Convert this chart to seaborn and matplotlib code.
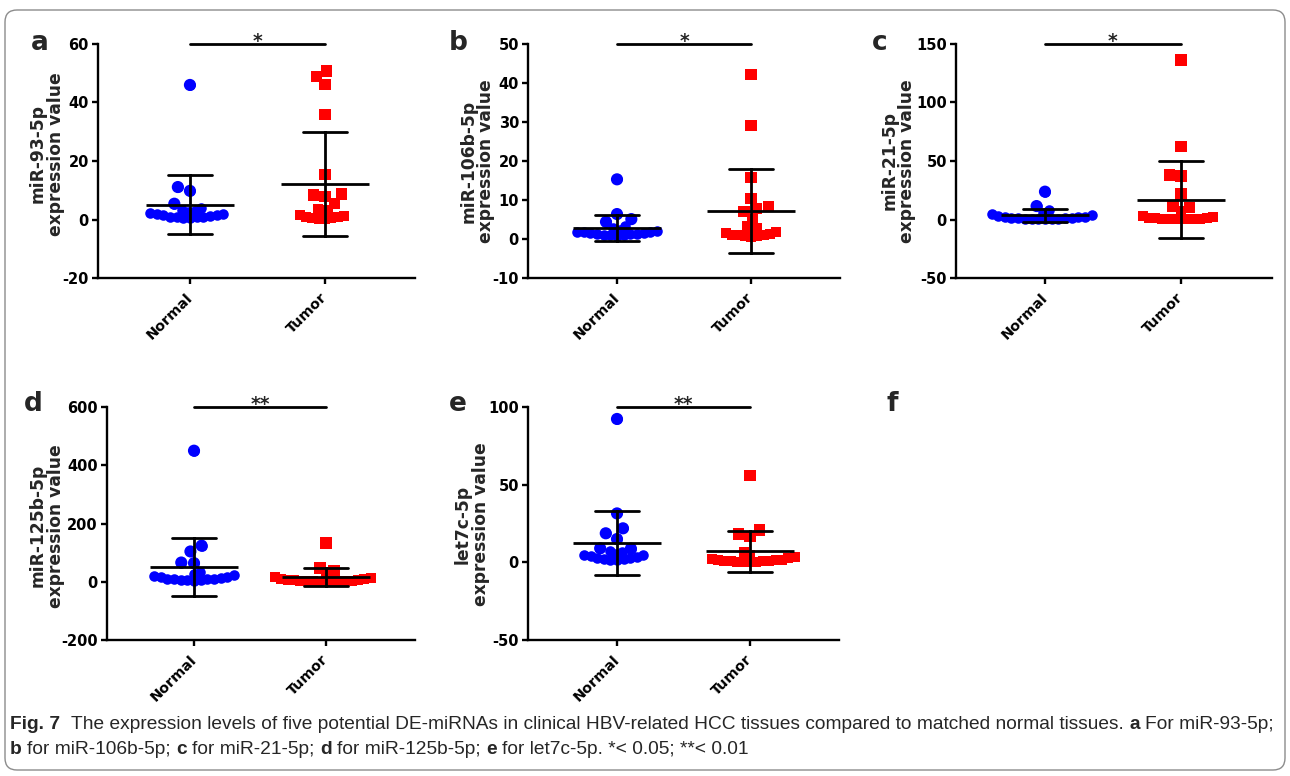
import warnings
warnings.filterwarnings("ignore")
import numpy as np
import pandas as pd
import matplotlib
matplotlib.use("Agg")
import matplotlib.pyplot as plt
from matplotlib.collections import PathCollection
import seaborn as sns
from matplotlib.patches import FancyBboxPatch
from matplotlib import font_manager

# ---------------- data ----------------
groups = ["Normal", "Tumor"]
panel_letters = ["a", "b", "c", "d", "e"]
mirnas = ["miR-93-5p", "miR-106b-5p", "miR-21-5p", "miR-125b-5p", "let7c-5p"]
sig_labels = ["*", "*", "*", "**", "**"]

normal_93 = [46.0, 11.1, 9.8, 5.4, 3.9, 3.4, 3.0, 2.6, 2.3, 2.0, 1.8, 1.6, 1.4, 1.2, 1.0, 0.9, 0.8, 0.7, 0.6, 0.5]
tumor_93 = [50.8, 48.8, 46.2, 36.0, 15.5, 8.7, 8.4, 7.9, 5.6, 3.6, 3.4, 2.2, 1.6, 1.2, 0.9, 0.7, 0.5, 0.4, 0.3, 0.2]
normal_106b = [15.3, 6.4, 5.1, 4.4, 3.4, 2.8, 2.3, 2.0, 1.9, 1.8, 1.7, 1.6, 1.5, 1.4, 1.3, 1.2, 1.1, 1.0, 0.9, 0.8]
tumor_106b = [42.2, 29.0, 15.7, 10.3, 8.3, 7.8, 7.0, 5.1, 3.4, 2.8, 2.2, 1.8, 1.5, 1.3, 1.1, 1.0, 0.9, 0.8, 0.7, 0.6]
normal_21 = [23.8, 11.5, 8.1, 5.5, 4.5, 3.5, 3.0, 2.5, 2.1, 1.8, 1.5, 1.3, 1.1, 0.9, 0.8, 0.7, 0.6, 0.5, 0.4, 0.3]
tumor_21 = [136.3, 62.2, 38.0, 37.2, 21.8, 10.9, 10.1, 7.5, 3.0, 2.0, 1.5, 1.2, 1.0, 0.8, 0.7, 0.6, 0.5, 0.4, 0.3, 0.2]
normal_125b = [450, 124, 104, 66, 64, 32, 26, 22, 19, 17, 15, 13, 11, 10, 9, 8, 7, 6, 5, 4]
tumor_125b = [133, 47, 39, 25, 18, 14, 11, 9, 7, 6, 5, 4, 3.5, 3, 2.5, 2, 1.5, 1, 0.8, 0.5]
normal_let7c = [92.3, 31.5, 21.9, 18.7, 15.0, 9.0, 8.8, 7.5, 6.5, 5.5, 5.0, 4.5, 4.0, 3.5, 3.0, 2.7, 2.4, 2.1, 1.8, 1.5]
tumor_let7c = [55.8, 20.8, 18.2, 16.5, 6.8, 4.8, 3.2, 2.9, 2.2, 1.8, 1.5, 1.2, 1.0, 0.8, 0.7, 0.6, 0.5, 0.4, 0.3, 0.2]

yticks_93 = [-20, 0, 20, 40, 60]
yticks_106b = [-10, 0, 10, 20, 30, 40, 50]
yticks_21 = [-50, 0, 50, 100, 150]
yticks_125b = [-200, 0, 200, 400, 600]
yticks_let7c = [-50, 0, 50, 100]

normals = [normal_93, normal_106b, normal_21, normal_125b, normal_let7c]
tumors = [tumor_93, tumor_106b, tumor_21, tumor_125b, tumor_let7c]
yticks_all = [yticks_93, yticks_106b, yticks_21, yticks_125b, yticks_let7c]

caption_line1 = [("Fig. 7", "bold"),
                 ("  The expression levels of five potential DE-miRNAs in clinical HBV-related HCC tissues compared to matched normal tissues. ", "normal"),
                 ("a", "bold"), (" For miR-93-5p;", "normal")]
caption_line2 = [("b", "bold"), (" for miR-106b-5p; ", "normal"), ("c", "bold"), (" for miR-21-5p; ", "normal"),
                 ("d", "bold"), (" for miR-125b-5p; ", "normal"), ("e", "bold"),
                 (" for let7c-5p. *< 0.05; **< 0.01", "normal")]

# ---------------- layout ----------------
W, H = 1290, 776
sns.set_style("ticks")
plt.rcParams["font.family"] = ["DejaVu Sans"]
fig = plt.figure(figsize=(W / 100, H / 100), dpi=100)

boxes = [(98, 44, 415, 278), (528, 44, 840, 278), (956, 44, 1272, 278),
         (107, 407, 415, 640), (528, 407, 839, 640)]
xlims = [(-0.681, 1.667), (-0.664, 1.664), (-0.654, 1.669), (-0.659, 1.674), (-0.669, 1.669)]
ylabel_pos = [(-0.104, 0.53), (-0.105, 0.5), (-0.126, 0.5), (-0.136, 0.49), (-0.122, 0.497)]
letter_pos = [(31, 50), (449, 50), (872, 50), (24, 411), (449, 411), (887, 411)]

BAND_PX = 11  # points this close (in pixels) to a group's lowest value pack tightly, like GraphPad


def dense_swarm(ax, data, color, marker, layout_size, draw_size):
    """Swarm whose low, crowded band packs with a small footprint and is drawn with full-size markers."""
    n_before = len(ax.collections)
    sns.swarmplot(data=data, x="group", y="value", order=groups, color=color, marker=marker,
                  size=draw_size, linewidth=0, ax=ax, zorder=2)
    for coll in ax.collections[n_before:]:
        sb_draw = coll.draw

        def new_draw(renderer, _c=coll, _sd=sb_draw, _ax=ax):
            offs = np.asarray(_c.get_offsets())
            if len(offs) == 0:
                return _sd(renderer)
            ypix = _ax.transData.transform(offs)[:, 1]
            in_band = (ypix - ypix.min()) < BAND_PX
            _c.set_sizes(np.where(in_band, layout_size ** 2, (draw_size * 1.15) ** 2))
            _sd(renderer)
            _c.set_sizes([draw_size ** 2])
            PathCollection.draw(_c, renderer)

        coll.draw = new_draw


for i in range(5):
    l, t, r, b = boxes[i]
    ax = fig.add_axes([l / W, 1 - b / H, (r - l) / W, (b - t) / H])
    df = pd.DataFrame({"group": ["Normal"] * len(normals[i]) + ["Tumor"] * len(tumors[i]),
                       "value": normals[i] + tumors[i]})
    dense_swarm(ax, df[df.group == "Normal"], "#0000ff", "o", 4.6, 7.6)
    dense_swarm(ax, df[df.group == "Tumor"], "#ff0000", "s", 4.4, 7.0)
    sns.pointplot(data=df, x="group", y="value", order=groups, estimator="mean", errorbar="sd",
                  color="black", markers="_", markersize=63, markeredgewidth=2.0,
                  linestyles="none", capsize=0.33, err_kws={"linewidth": 2.0}, ax=ax)
    for ln in ax.lines:
        ln.set_zorder(3)
    yt = yticks_all[i]
    ax.set_xlim(*xlims[i])
    ax.set_ylim(yt[0], yt[-1])
    ax.set_yticks(yt)
    ax.set_yticklabels([str(v) for v in yt], fontweight="bold", fontsize=10.5)
    ax.set_xticks([0, 1])
    ax.set_xticklabels(groups, rotation=45, ha="right", va="center", rotation_mode="anchor",
                       fontweight="bold", fontsize=10.4)
    ax.set_xlabel("")
    ax.set_ylabel(f"{mirnas[i]}\nexpression value", fontweight="bold", fontsize=12.3, linespacing=1.0)
    ax.yaxis.set_label_coords(*ylabel_pos[i])
    for s in ["top", "right"]:
        ax.spines[s].set_visible(False)
    for s in ["left", "bottom"]:
        ax.spines[s].set_linewidth(1.7)
        ax.spines[s].set_color("black")
    ax.tick_params(axis="both", direction="out", length=4.5, width=1.7, colors="black")
    ax.tick_params(axis="y", pad=2)
    ax.tick_params(axis="x", pad=8)
    ax.set_facecolor("none")
    # significance bar
    ax.plot([0, 1], [yt[-1], yt[-1]], color="black", lw=2.0, clip_on=False, zorder=4)
    ax.annotate(sig_labels[i], xy=(0.5, yt[-1]), xytext=(0, -2.5), textcoords="offset points",
                ha="center", va="baseline", fontsize=13.5, fontweight="bold", annotation_clip=False)

for (x, y), lt in zip(letter_pos, panel_letters + ["f"]):
    fig.text(x / W, 1 - y / H, lt, fontsize=19, fontweight="bold", ha="left", va="baseline")

# ---------------- caption ----------------
names = {f.name for f in font_manager.fontManager.ttflist}
cap_family = "Liberation Sans" if "Liberation Sans" in names else "DejaVu Sans"
renderer = fig.canvas.get_renderer()


def text_w(s, size, weight):
    t = fig.text(0, 0, s, fontsize=size, fontweight=weight, family=cap_family)
    w = t.get_window_extent(renderer).width
    t.remove()
    return w


def space_w(size, weight):
    return text_w("a a", size, weight) - text_w("aa", size, weight)


def line_width(pieces, size):
    tot = 0
    for s, wgt in pieces:
        core = s.strip(" ")
        n_sp = len(s) - len(core)
        tot += text_w(core, size, wgt) + n_sp * space_w(size, wgt)
    return tot


def draw_line(pieces, x0, y0, size):
    x = x0
    for s, wgt in pieces:
        lead = len(s) - len(s.lstrip(" "))
        trail = len(s) - len(s.rstrip(" "))
        core = s.strip(" ")
        sw = space_w(size, wgt)
        x += lead * sw
        t = fig.text(x / W, 1 - y0 / H, core, fontsize=size, fontweight=wgt, family=cap_family,
                     ha="left", va="baseline")
        x += t.get_window_extent(renderer).width + trail * sw


base = 12.0
w1 = line_width(caption_line1, base)
cap_size = base * (1270 / w1)
draw_line(caption_line1, 10, 729, cap_size)
draw_line(caption_line2, 10, 754, cap_size)

border = FancyBboxPatch((0.05, 0.06), 12.8, 7.6, boxstyle="round,pad=0,rounding_size=0.12",
                        transform=fig.dpi_scale_trans, facecolor="none", edgecolor="#8c8c8c", lw=1.0)
fig.add_artist(border)

fig.savefig("out.png", dpi=100)
